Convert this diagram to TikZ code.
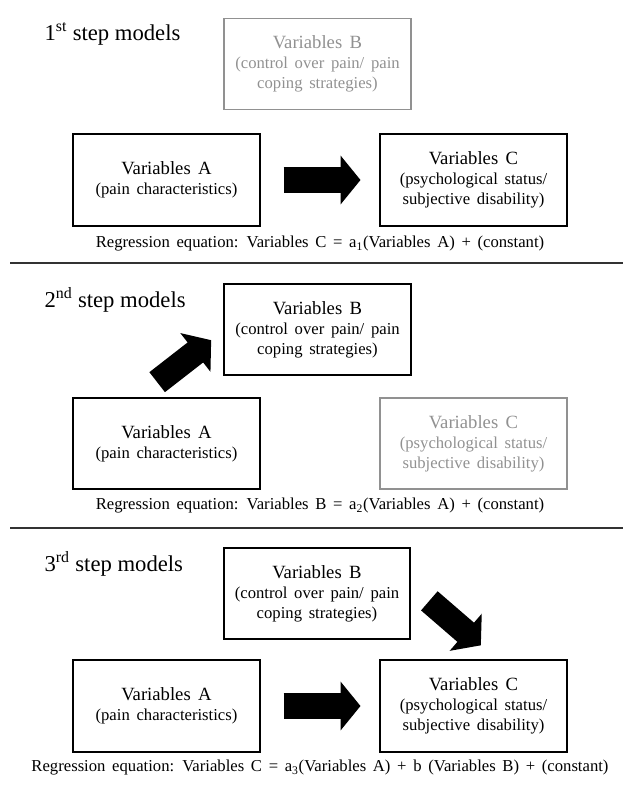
\documentclass[tikz,border=0pt]{standalone}
\usepackage{fontspec}
\setmainfont{Liberation Serif}
\newfontfamily\widefont[WordSpace=1.6]{Liberation Serif}
\usetikzlibrary{arrows.meta}

\definecolor{fadegray}{RGB}{145,145,145}
\definecolor{rulegray}{RGB}{50,50,50}

\tikzset{every picture/.style={line width=0.75pt}}
\tikzset{
  varbox/.style={draw, line width=1.5pt, minimum width=140pt, minimum height=68.5pt, inner sep=0pt, align=center, font=\widefont\fontsize{12.5}{15}\selectfont},
  fadebox/.style={varbox, draw=fadegray, text=fadegray, line width=1.2pt},
  blockarrow/.style={line width=19pt, -{Triangle[width=36pt,length=15pt]}},
  steptitle/.style={anchor=west, inner sep=0.75pt, font=\fontsize{17}{20}\selectfont},
  eqtext/.style={inner sep=0.75pt, font=\widefont\fontsize{12.5}{14}\selectfont},
  seprule/.style={draw=rulegray, line width=1.2pt}
}
\newcommand{\varname}[1]{{\fontsize{14}{16}\selectfont #1}}

\begin{document}
\begin{tikzpicture}[x=0.75pt,y=0.75pt,yscale=-1,xscale=1]
\useasboundingbox (0,0) rectangle (623,785);

%%% 1st step
% Text Node
\draw (43,34) node [steptitle] (T1) {1\textsuperscript{st} step models};
%Shape: Rectangle
\draw (317.5,64) node [fadebox] (B1) {\varname{Variables B}\\(control over pain/ pain\\coping strategies)};
%Shape: Rectangle
\draw (166.5,180) node [varbox] (A1) {\varname{Variables A}\\(pain characteristics)};
%Shape: Rectangle
\draw (473.5,180) node [varbox] (C1) {\varname{Variables C}\\(psychological status/\\subjective disability)};
%Block Arrow
\draw [blockarrow] ([xshift=17pt]A1.east) -- ([xshift=-14pt]C1.west);
% Text Node
\draw (320,244) node [eqtext] (E1) {Regression equation: Variables C = a\textsubscript{1}(Variables A) + (constant)};
%Straight Lines
\draw [seprule] (10,263) -- (623,263);

%%% 2nd step
% Text Node
\draw (43,300) node [steptitle] (T2) {2\textsuperscript{nd} step models};
%Shape: Rectangle
\draw (317.5,329.5) node [varbox] (B2) {\varname{Variables B}\\(control over pain/ pain\\coping strategies)};
%Shape: Rectangle
\draw (166.5,443.5) node [varbox] (A2) {\varname{Variables A}\\(pain characteristics)};
%Shape: Rectangle
\draw (473.5,443.5) node [fadebox] (C2) {\varname{Variables C}\\(psychological status/\\subjective disability)};
%Block Arrow
\draw [blockarrow] ([xshift=-7pt,yshift=-11pt]A2.north) -- ([xshift=-9pt,yshift=8pt]B2.west);
% Text Node
\draw (320,506) node [eqtext] (E2) {Regression equation: Variables B = a\textsubscript{2}(Variables A) + (constant)};
%Straight Lines
\draw [seprule] (10,528) -- (623,528);

%%% 3rd step
% Text Node
\draw (43,564) node [steptitle] (T3) {3\textsuperscript{rd} step models};
%Shape: Rectangle
\draw (317,593.5) node [varbox] (B3) {\varname{Variables B}\\(control over pain/ pain\\coping strategies)};
%Shape: Rectangle
\draw (166.5,706) node [varbox] (A3) {\varname{Variables A}\\(pain characteristics)};
%Shape: Rectangle
\draw (473.5,706) node [varbox] (C3) {\varname{Variables C}\\(psychological status/\\subjective disability)};
%Block Arrow
\draw [blockarrow] ([xshift=17pt]A3.east) -- ([xshift=-14pt]C3.west);
%Block Arrow
\draw [blockarrow] ([xshift=13.5pt,yshift=5.5pt]B3.east) -- ([xshift=5.5pt,yshift=-10.5pt]C3.north);
% Text Node
\draw (320,768) node [eqtext] (E3) {Regression equation: Variables C = a\textsubscript{3}(Variables A) + b (Variables B) + (constant)};

\end{tikzpicture}
\end{document}
